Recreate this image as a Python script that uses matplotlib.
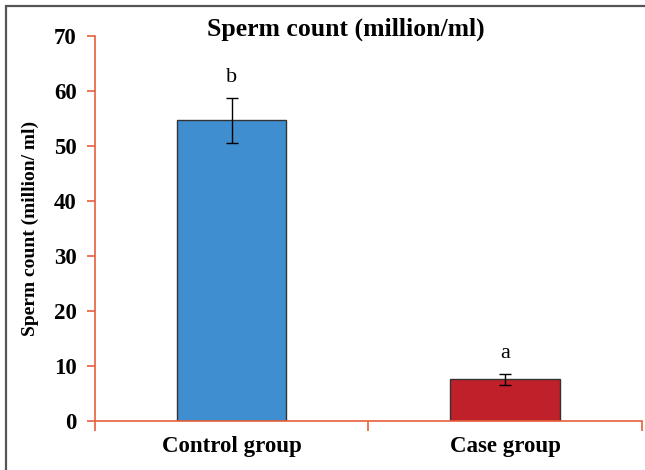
import matplotlib
matplotlib.use('Agg')
from matplotlib import pyplot as plt
from matplotlib.patches import Rectangle

groups = ['Control group', 'Case group']
means = [54.7, 7.5]
errors = [4.1, 0.95]
letters = ['b', 'a']
bar_colors = ['#3f8fd0', '#c0202a']
y_ticks = [0, 10, 20, 30, 40, 50, 60, 70]

axis_color = '#e8603c'
serif = ['Liberation Serif', 'DejaVu Serif']

fig = plt.figure(figsize=(6.45, 4.70), dpi=100)
ax = fig.add_axes([0.147, 0.105, 0.848, 0.818])

x = list(range(len(groups)))
ax.bar(x, means, width=0.40, color=bar_colors, edgecolor='#333333', linewidth=1.0, zorder=2)
ax.errorbar(x, means, yerr=errors, fmt='none', ecolor='black', elinewidth=1.0,
            capsize=4, capthick=1.0, zorder=3)
for xi, m, e, lab in zip(x, means, errors, letters):
    ax.text(xi, m + e + 2.0, lab, ha='center', va='bottom', fontsize=16, family=serif)

ax.set_xlim(-0.5, 1.5)
ax.set_ylim(0, 70)
ax.set_yticks(y_ticks)
ax.set_yticklabels([str(t) for t in y_ticks], fontsize=16.5, fontweight='bold', family=serif)
ax.set_xticks(x)
ax.set_xticklabels(groups, fontsize=16.5, fontweight='bold', family=serif)
ax.set_xticks([-0.5, 0.5, 1.5], minor=True)

for side in ['top', 'right']:
    ax.spines[side].set_visible(False)
for side in ['left', 'bottom']:
    ax.spines[side].set_color(axis_color)
    ax.spines[side].set_linewidth(1.2)

ax.tick_params(axis='y', direction='out', length=6, width=1.2, color=axis_color, pad=7)
ax.tick_params(axis='x', which='major', length=0, pad=11)
ax.tick_params(axis='x', which='minor', direction='out', length=7, width=1.2, color=axis_color)

ax.set_ylabel('Sperm count (million/ ml)', fontsize=14, fontweight='bold', family=serif, labelpad=11)
fig.text(0.536, 0.938, 'Sperm count (million/ml)', ha='center', va='center',
         fontsize=18.5, fontweight='bold', family=serif)

fig.patches.append(Rectangle((6 / 645, -0.02), 1.05, 1 - 6 / 470 + 0.02, transform=fig.transFigure,
                             fill=False, edgecolor='#555555', linewidth=1.6))

fig.savefig('out.png', dpi=100)
